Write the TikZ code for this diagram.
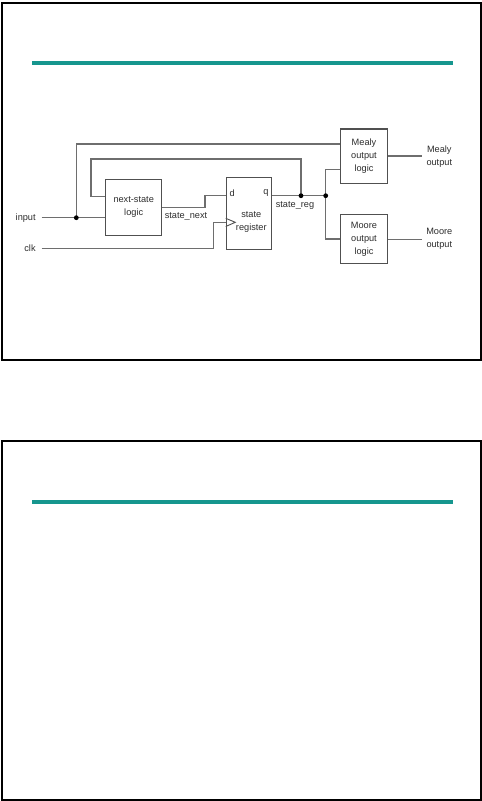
\documentclass[tikz,border=0pt]{standalone}
\usepackage{fontspec}
\setmainfont{Liberation Sans}
\definecolor{tealbar}{RGB}{22,150,142}
\definecolor{wirecol}{RGB}{110,110,110}
\definecolor{boxcol}{RGB}{80,80,80}
\definecolor{txtcol}{RGB}{45,45,45}
\begin{document}
\begin{tikzpicture}[x=1pt,y=-1pt,
  frame/.style={draw=black, line width=2pt},
  bar/.style={draw=tealbar, line width=3.3pt},
  wire/.style={draw=wirecol, line width=1.1pt},
  blk/.style={draw=boxcol, line width=1.1pt, inner sep=0pt},
  lbl/.style={inner sep=0pt, align=center, text=txtcol, font=\fontsize{9.2}{13.2}\selectfont},
  dot/.style={circle, fill=black, inner sep=0pt, minimum size=4.8pt}]
\useasboundingbox (0,0) rectangle (482,801);
% slide frames
\draw[frame] (2,3) rectangle (480.5,360);
\draw[bar] (32,63) -- (453,63);
\draw[frame] (2,441) rectangle (480.5,799.5);
\draw[bar] (32,502) -- (453,502);
% blocks
\node[blk, minimum width=56pt, minimum height=55.7pt] (ns) at (133.7,207.2) {};
\node[lbl] (nstxt) at (133.7,207.2) {next-state\\logic};
\node[blk, minimum width=45.4pt, minimum height=72pt] (reg) at (249,213.3) {};
\node[lbl] (regtxt) at (251.3,222) {state\\register};
\node[blk, minimum width=46.6pt, minimum height=54.7pt] (mealy) at (364,156.3) {};
\node[lbl] (mealytxt) at (364,156.3) {Mealy\\output\\logic};
\node[blk, minimum width=46.6pt, minimum height=49.4pt] (moore) at (364,239) {};
\node[lbl] (mooretxt) at (364,239) {Moore\\output\\logic};
% labels
\node[lbl] (inlab) at (25.7,217.7) {input};
\node[lbl] (clklab) at (30,248.7) {clk};
\node[lbl] (dlab) at (232.3,193.3) {d};
\node[lbl] (qlab) at (266,193.3) {q};
\node[lbl] (snlab) at (186,216.7) {state\_next};
\node[lbl] (srlab) at (295,205.7) {state\_reg};
\node[lbl] (mealyout) at (439.3,156.7) {Mealy\\output};
\node[lbl] (mooreout) at (439.3,239) {Moore\\output};
% coordinates
\coordinate (inS) at (41.7,217.7);
\coordinate (j1) at (76.3,217.7);
\coordinate (top1) at (76.3,144);
\coordinate (clkS) at (41.7,248.7);
\coordinate (ckup) at (213.3,222.3);
\coordinate (snA) at (205,207.3);
\coordinate (snB) at (205,195.7);
\coordinate (j2) at (301,195.7);
\coordinate (j3) at (325.7,195.7);
\coordinate (fbT) at (301,159);
\coordinate (fbL) at (91,159);
\coordinate (fbB) at (91,196.3);
\coordinate (myE) at (421.7,156);
\coordinate (moE) at (421.7,239.3);
\coordinate (myIn) at (325.7,169.7);
% wires
\draw[wire] (inS) -- (ns.west |- inS);
\draw[wire] (j1) |- (mealy.west |- top1);
\draw[wire] (clkS) -| (ckup) -- (reg.west |- ckup);
\draw[wire] (ns.east |- snA) -- (snA) -- (snB) -- (reg.west |- snB);
\draw[wire] (reg.east |- j2) -- (j3);
\draw[wire] (j2) -- (fbT) -- (fbL) -- (fbB) -- (ns.west |- fbB);
\draw[wire] (j3) |- (mealy.west |- myIn);
\draw[wire] (j3) |- (moore.west);
\draw[wire] (mealy.east |- myE) -- (myE);
\draw[wire] (moore.east |- moE) -- (moE);
% clock triangle
\draw[draw=boxcol, line width=0.9pt] (reg.west |- 0,218.3) -- (235.3,222.3) -- (reg.west |- 0,226.5);
% junction dots
\node[dot] (d1) at (j1) {};
\node[dot] (d2) at (j2) {};
\node[dot] (d3) at (j3) {};
\end{tikzpicture}
\end{document}
